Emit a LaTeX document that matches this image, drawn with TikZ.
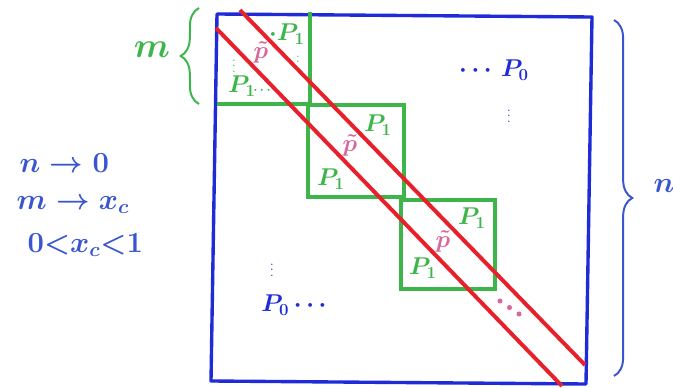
\documentclass[tikz,border=0pt]{standalone}
\usepackage{xcolor}
\usepackage{tikz}
\usetikzlibrary{decorations.pathreplacing}
\definecolor{MatBlue}{HTML}{1F2BD6}
\definecolor{PenBlue}{HTML}{3A55D0}
\definecolor{BlockGreen}{HTML}{3DB54A}
\definecolor{BandRed}{HTML}{E8202A}
\definecolor{TildePink}{HTML}{D8689A}

\begin{document}
\begin{tikzpicture}[x=0.025cm,y=-0.025cm,
  matbox/.style={draw=MatBlue,line width=2.4pt,line join=round},
  block/.style={draw=BlockGreen,line width=2.4pt},
  band/.style={draw=BandRed,line width=2.8pt},
  plab/.style={text=BlockGreen,font=\LARGE\boldmath,inner sep=0pt},
  tlab/.style={text=TildePink,font=\LARGE\boldmath,inner sep=0pt},
  olab/.style={text=MatBlue,font=\LARGE\boldmath,inner sep=0pt},
  dotlab/.style={font=\small\boldmath,inner sep=0pt},
  note/.style={text=PenBlue,font=\huge\boldmath,anchor=west,inner sep=1pt},
  bracket/.style={decorate,decoration={brace,amplitude=13pt},line width=1.4pt}
]
\useasboundingbox (0,0) rectangle (673,388);

% the n x n matrix
\coordinate (tl) at (217,14);
\coordinate (tr) at (592,17);
\coordinate (br) at (586,384);
\coordinate (bl) at (211,381);
\draw[matbox] (tl) -- (tr) -- (br) -- (bl) -- cycle;

% diagonal blocks of size m
\draw[block] (310,12) -- (310,104) -- (217,104);
\draw[block] (308,105) rectangle (404,197);
\draw[block] (401,200) rectangle (495,289);

% band
\coordinate (ua) at (240,10);
\coordinate (ub) at (585,365);
\coordinate (la) at (216,28);
\coordinate (lb) at (562,386);
\draw[band] (ua) -- (ub);
\draw[band] (la) -- (lb);

% braces
\coordinate (mb0) at (199,104);
\coordinate (mb1) at (199,8);
\draw[bracket,draw=BlockGreen] (mb0) -- (mb1);
\node[text=BlockGreen,font=\fontsize{26}{26}\selectfont\boldmath] (mlab) at (152,50) {$m$};
\coordinate (nb0) at (614,20);
\coordinate (nb1) at (614,376);
\draw[bracket,draw=PenBlue] (nb0) -- (nb1);
\node[text=PenBlue,font=\huge\boldmath] (nlab) at (664,186) {$n$};

% block labels
\node[plab] (p1a) at (287,34) {$\cdot P_1$};
\node[dotlab,text=BlockGreen] (p1adots) at (298,58) {$\vdots$};
\node[tlab] (pt1) at (261,52) {$\tilde p$};
\node[dotlab,text=BlockGreen] (p1bdots) at (234,62) {$\vdots$};
\node[plab] (p1b) at (242,86) {$P_1$};
\node[dotlab,text=BlockGreen] (p1bdots2) at (262,90) {$\cdots$};

\node[plab] (p2a) at (378,125) {$P_1$};
\node[tlab] (pt2) at (350,145) {$\tilde p$};
\node[plab] (p2b) at (331,179) {$P_1$};

\node[plab] (p3a) at (472,218) {$P_1$};
\node[tlab] (pt3) at (443,241) {$\tilde p$};
\node[plab] (p3b) at (423,268) {$P_1$};

% off-diagonal part
\node[olab] (p0a) at (494,70) {$\cdots\,P_0$};
\node[dotlab,text=MatBlue] (p0adots) at (509,112) {$\vdots$};
\node[dotlab,text=MatBlue] (p0bdots) at (272,266) {$\vdots$};
\node[olab] (p0b) at (294,305) {$P_0\cdots$};
\foreach \k in {0,1,2}
  \fill[TildePink] (500+9.5*\k,301+6.5*\k) circle (1.8pt);

% limits
\node[note] (lim1) at (18,163) {$n \to 0$};
\node[note] (lim2) at (15,205) {$m \to x_c$};
\node[note] (lim3) at (26,245) {$0{<}x_c{<}1$};
\end{tikzpicture}
\end{document}
